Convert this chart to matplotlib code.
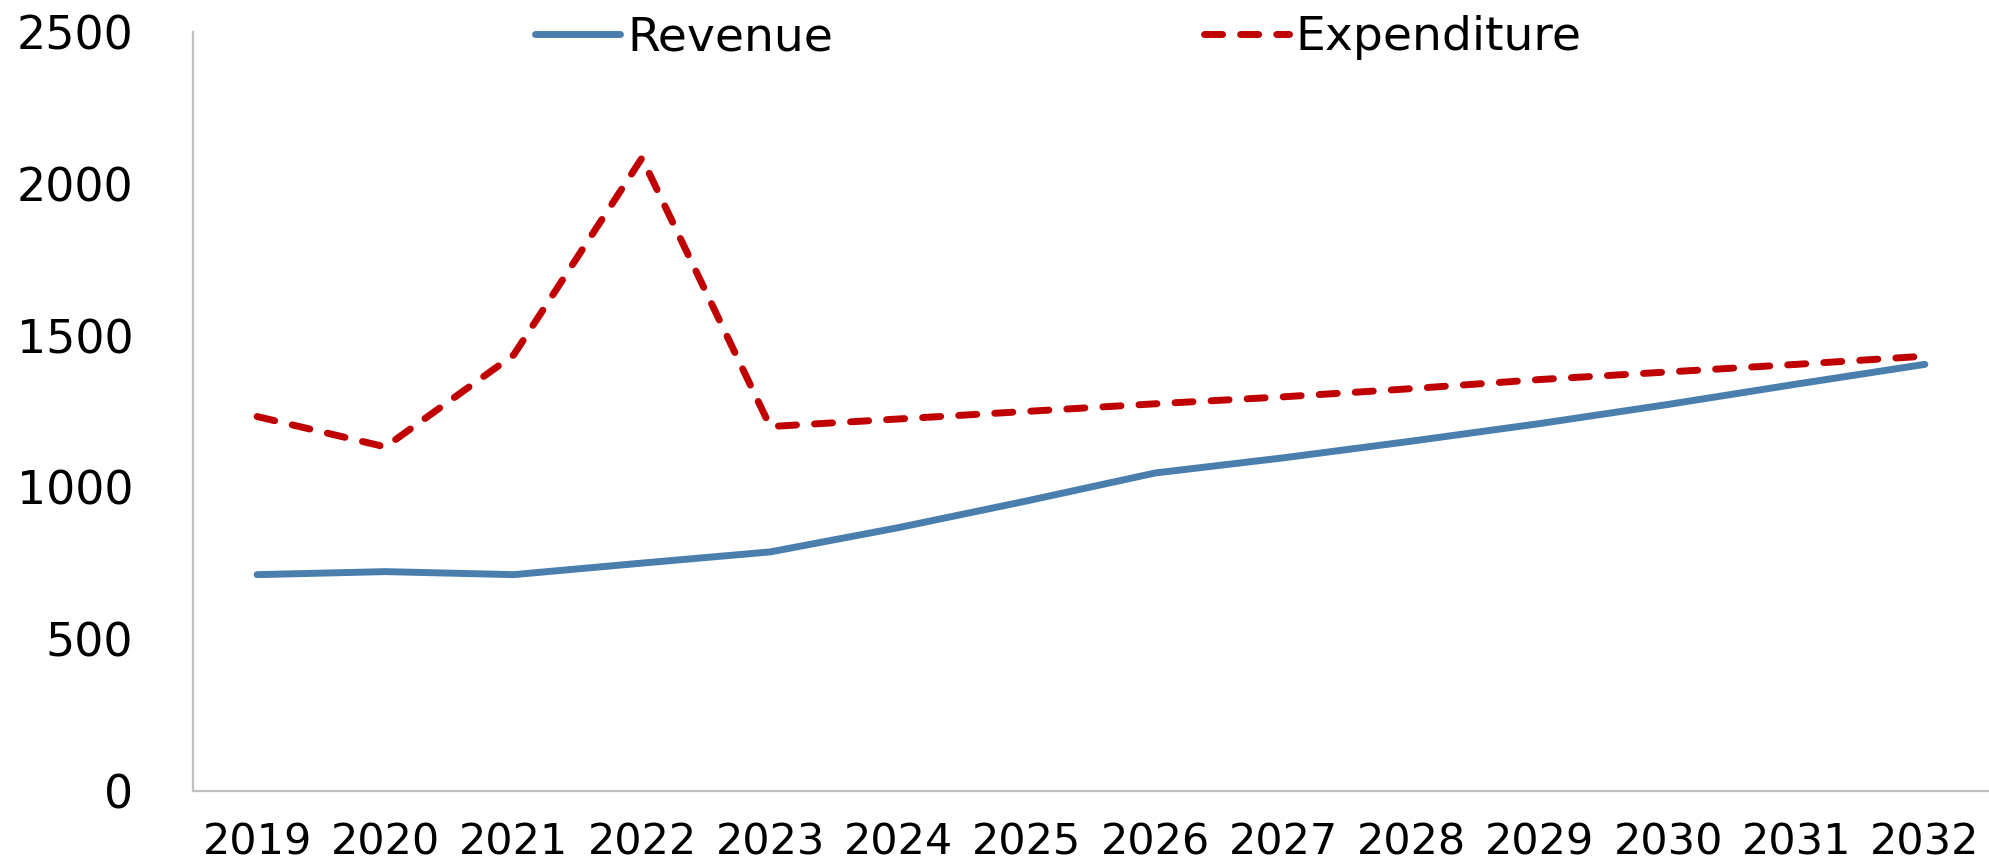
import matplotlib.pyplot as plt

plt.rcParams["font.family"] = ["DejaVu Sans"]

# 연도 / 수입 / 지출
years = ["2019", "2020", "2021", "2022", "2023", "2024", "2025",
         "2026", "2027", "2028", "2029", "2030", "2031", "2032"]
revenue = [712, 722, 712, 750, 787, 867, 955,
           1047, 1097, 1152, 1210, 1273, 1340, 1405]
expenditure = [1233, 1133, 1436, 2085, 1200, 1225, 1250,
               1275, 1298, 1325, 1355, 1380, 1405, 1432]
y_ticks = [0, 500, 1000, 1500, 2000, 2500]

fig = plt.figure(figsize=(19.89, 8.67), dpi=100)
ax = fig.add_axes([0.097, 0.088, 0.903, 0.875])

x = range(len(years))
ax.plot(x, revenue, color="#4A7EAD", lw=5, solid_capstyle="round",
        solid_joinstyle="round", label="Revenue")
ax.plot(x, expenditure, color="#C00000", lw=5, dashes=(2.6, 2.6),
        dash_capstyle="round", dash_joinstyle="round", label="Expenditure")

ax.set_xlim(-0.5, len(years) - 0.5)
ax.set_ylim(0, 2500)
ax.set_xticks(list(x))
ax.set_xticklabels(years)
ax.set_yticks(y_ticks)
ax.set_yticklabels([str(v) for v in y_ticks])

for side in ["top", "right"]:
    ax.spines[side].set_visible(False)
for side in ["left", "bottom"]:
    ax.spines[side].set_color("#BFBFBF")
    ax.spines[side].set_linewidth(1.6)

ax.tick_params(axis="x", length=0, pad=22, labelsize=31)
ax.tick_params(axis="y", length=0, pad=43, labelsize=33)

fig.legend(loc="center left", bbox_to_anchor=(535 / 1989, 1 - 38 / 867),
           ncol=2, frameon=False, fontsize=34, borderpad=0,
           borderaxespad=0, handlelength=1.8, handletextpad=0.15,
           columnspacing=7.85)

fig.savefig("out.png", dpi=100)
